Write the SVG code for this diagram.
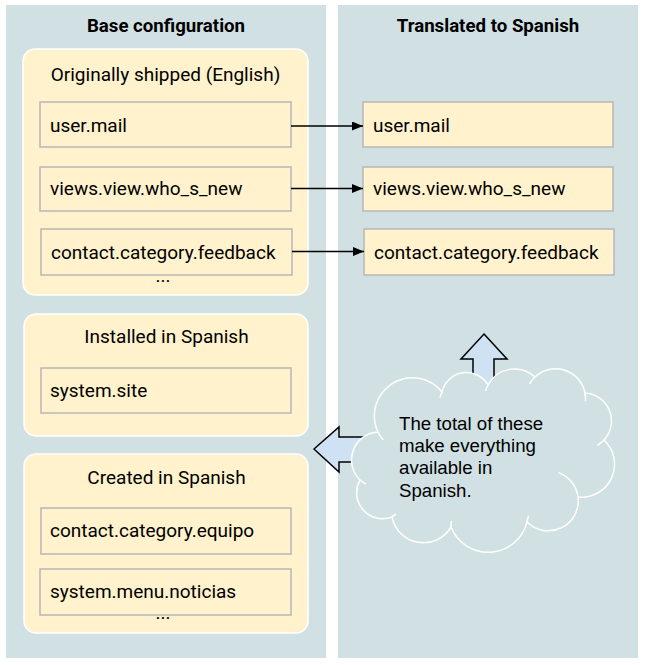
<svg xmlns="http://www.w3.org/2000/svg" width="646" height="665" viewBox="0 0 646 665">
<style>
.panel{fill:#d0e0e3}
.grp{fill:#fff2cc;stroke:#ffffff;stroke-width:1.5}
.box{fill:#fff2cc;stroke:#b7b7b7;stroke-width:1.5}
.t{font-family:Roboto,"Liberation Sans",sans-serif;font-size:19px;fill:#000}
.h{font-family:Roboto,"Liberation Sans",sans-serif;font-size:18.67px;font-weight:bold;fill:#000;text-anchor:middle}
.c{text-anchor:middle}
.conn{stroke:#000;stroke-width:1.5;fill:none}
.blk{fill:#cfe2f3;stroke:#000;stroke-width:1.5;stroke-linejoin:miter}
.cloudtxt{font-family:"Liberation Sans",Arial,sans-serif;font-size:18.67px;fill:#000}
</style>
<defs>
<marker id="ah" markerUnits="userSpaceOnUse" markerWidth="12" markerHeight="10" refX="11" refY="4.5" orient="auto">
<path d="M0,0 L11,4.5 L0,9 z" fill="#000"/>
</marker>
</defs>
<rect width="646" height="665" fill="#ffffff"/>
<g id="panel-base">
<rect class="panel" x="6" y="5" width="320" height="653"/>
<text class="h" x="166" y="32">Base configuration</text>
</g>
<g id="panel-translated">
<rect class="panel" x="338" y="5" width="300" height="653"/>
<text class="h" x="488" y="32">Translated to Spanish</text>
</g>
<g id="group-shipped">
<rect class="grp" x="23" y="49" width="285" height="246" rx="12"/>
<text class="t c" x="165.5" y="81">Originally shipped (English)</text>
<text class="t c" x="163" y="282">...</text>
</g>
<g id="node-user-mail">
<rect class="box" x="40" y="102" width="251" height="45"/>
<text class="t" x="50" y="132">user.mail</text>
</g>
<g id="node-views">
<rect class="box" x="40" y="167" width="251" height="44"/>
<text class="t" x="50" y="195">views.view.who_s_new</text>
</g>
<g id="node-contact-feedback">
<rect class="box" x="41" y="229" width="251" height="46"/>
<text class="t" x="51" y="259">contact.category.feedback</text>
</g>
<g id="group-installed">
<rect class="grp" x="24" y="314" width="284" height="122" rx="12"/>
<text class="t c" x="166.5" y="343">Installed in Spanish</text>
</g>
<g id="node-system-site">
<rect class="box" x="41" y="368" width="250" height="45"/>
<text class="t" x="50" y="397">system.site</text>
</g>
<g id="group-created">
<rect class="grp" x="24" y="454" width="284" height="179" rx="12"/>
<text class="t c" x="166.5" y="484">Created in Spanish</text>
<text class="t c" x="163" y="619">...</text>
</g>
<g id="node-contact-equipo">
<rect class="box" x="41" y="508" width="250" height="46"/>
<text class="t" x="50" y="537">contact.category.equipo</text>
</g>
<g id="node-menu-noticias">
<rect class="box" x="40" y="569" width="251" height="46"/>
<text class="t" x="50" y="598">system.menu.noticias</text>
</g>
<g id="node-es-user-mail">
<rect class="box" x="363" y="102" width="250" height="45"/>
<text class="t" x="373" y="132">user.mail</text>
</g>
<g id="node-es-views">
<rect class="box" x="363" y="167" width="250" height="44"/>
<text class="t" x="373" y="195">views.view.who_s_new</text>
</g>
<g id="node-es-contact-feedback">
<rect class="box" x="364" y="229" width="250" height="46"/>
<text class="t" x="374" y="259">contact.category.feedback</text>
</g>
<g id="connectors">
<line class="conn" x1="291" y1="126" x2="363" y2="126" marker-end="url(#ah)"/>
<line class="conn" x1="291" y1="188.5" x2="363" y2="188.5" marker-end="url(#ah)"/>
<line class="conn" x1="292" y1="251.5" x2="364" y2="251.5" marker-end="url(#ah)"/>
<polygon class="blk" points="484,334 507,359 494,359 494,400 473,400 473,359 461,359"/>
<polygon class="blk" points="314,449 339,427 339,437 385,437 385,462 339,462 339,472"/>
</g>
<g id="cloud">
<path d="M378,432 A38,38 0 0 1 442,392 A25,25 0 0 1 488,385 A30,30 0 0 1 535,377 A30,30 0 0 1 585,393 A28,28 0 0 1 604,440 A33,33 0 0 1 578,497 A30,30 0 0 1 527,522 A40,40 0 0 1 451,527 A32,32 0 0 1 392,517 A26,26 0 0 1 360,480 A28,28 0 0 1 378,432 Z" fill="#d0e0e3" stroke="#ffffff" stroke-width="1.5"/>
<g fill="none" stroke="#ffffff" stroke-width="1.5">
<path d="M383.2,440.1 A38,38 0 0 1 378,432"/>
<path d="M440,397.6 A25,25 0 0 1 442,392"/>
<path d="M485.6,391.1 A30,30 0 0 1 488,385"/>
<path d="M529.6,383.8 A30,30 0 0 1 535,377"/>
<path d="M585,393 A30,30 0 0 1 585.5,401.4"/>
<path d="M604,440 A28,28 0 0 1 597.5,445.2"/>
<path d="M558.5,472.6 A30,30 0 0 1 578,497"/>
<path d="M527,522 A40,40 0 0 1 528.5,516"/>
<path d="M451,527 A32,32 0 0 1 451.5,521"/>
<path d="M392,517 A26,26 0 0 1 396,514"/>
<path d="M366,484 A28,28 0 0 1 360,480"/>
</g>
<text class="cloudtxt" x="399" y="430">The total of these</text>
<text class="cloudtxt" x="399" y="452">make everything</text>
<text class="cloudtxt" x="399" y="474">available in</text>
<text class="cloudtxt" x="399" y="497">Spanish.</text>
</g>
</svg>
